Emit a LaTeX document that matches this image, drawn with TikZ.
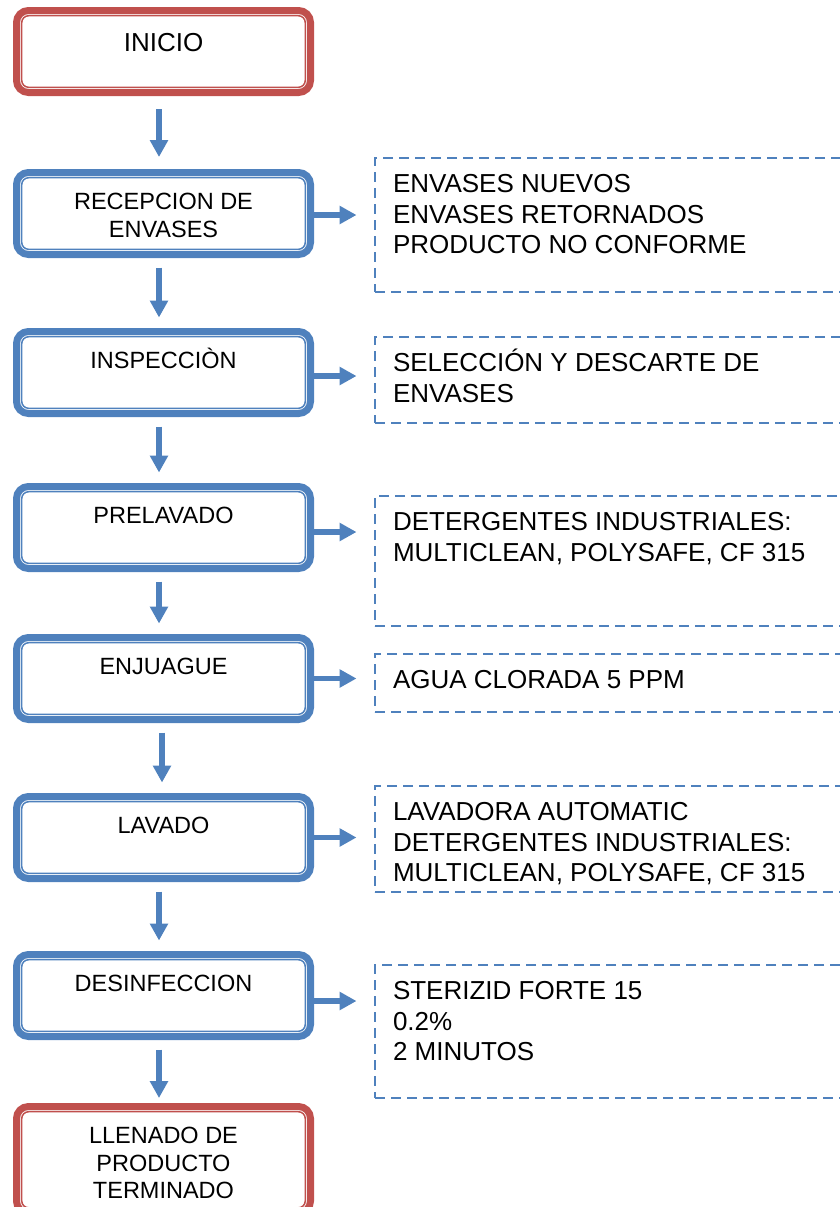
\documentclass[tikz,border=0pt]{standalone}
\usepackage{fontspec}
\setmainfont{Liberation Sans}
\usepackage{tikz}
\usetikzlibrary{arrows.meta}
\definecolor{flowblue}{RGB}{79,129,189}
\definecolor{flowred}{RGB}{192,80,77}
\def\proctext#1#2{\parbox[c][41pt][t]{147pt}{\centering\rule{0pt}{#1}#2}}
\def\notetext#1#2{\parbox[c][#1][t]{225pt}{\raggedright\rule{0pt}{17.3pt}#2}}

\begin{document}
\begin{tikzpicture}[x=0.5pt, y=-0.5pt,
	procbox/.style={draw=#1, line width=3.5pt, rounded corners=6pt, fill=white, inner sep=0pt,
		font=\fontsize{11.75pt}{13.75pt}\selectfont,
		path picture={\draw[#1, line width=0.75pt, rounded corners=3.5pt]
			([shift={(5.2,5.2)}]path picture bounding box.north west) rectangle
			([shift={(-5.2,-5.2)}]path picture bounding box.south east);}},
	procbox/.default=flowblue,
	notebox/.style={draw=flowblue, line width=1pt, dash pattern=on 5pt off 3pt, anchor=north west,
		inner xsep=9pt, inner ysep=0pt, font=\fontsize{13pt}{15.25pt}\selectfont},
	flowarrow/.style={flowblue, line width=2.9pt, -{Triangle[width=8.75pt,length=8.5pt]}},
	stepgap/.style={shorten <=4.75pt, shorten >=5.25pt}]
	\clip (0,0) rectangle (840,1207);
	% process steps
	\node[procbox=flowred, font=\fontsize{13pt}{15pt}\selectfont] (inicio) at (163.5,51.5) {\proctext{20.5pt}{INICIO}};
	\node[procbox] (recep) at (163.5,213.5) {\proctext{18.65pt}{RECEPCION DE\\ENVASES}};
	\node[procbox] (insp) at (163.5,372.5) {\proctext{18.65pt}{INSPECCIÒN}};
	\node[procbox] (prelav) at (163.5,527.5) {\proctext{18.65pt}{PRELAVADO}};
	\node[procbox] (enjuague) at (163.5,678.5) {\proctext{18.65pt}{ENJUAGUE}};
	\node[procbox] (lavado) at (163.5,837.5) {\proctext{18.65pt}{LAVADO}};
	\node[procbox] (desinf) at (163.5,995.5) {\proctext{18.65pt}{DESINFECCION}};
	\node[procbox=flowred, minimum height=53.25pt] (llenado) at (163.5,1159.75) {\proctext{12.5pt}{LLENADO DE\\PRODUCTO\\TERMINADO}};
	% notes
	\node[notebox] (envnote) at (374,157) {\notetext{67pt}{ENVASES NUEVOS\\ENVASES RETORNADOS\\PRODUCTO NO CONFORME}};
	\node[notebox] (inspnote) at (374,336) {\notetext{43pt}{SELECCIÓN Y DESCARTE DE\\ENVASES}};
	\node[notebox] (prelnote) at (374,495) {\notetext{65pt}{DETERGENTES INDUSTRIALES:\\MULTICLEAN, POLYSAFE, CF 315}};
	\node[notebox] (enjnote) at (374,653) {\notetext{29pt}{AGUA CLORADA 5 PPM}};
	\node[notebox] (lavnote) at (374,785) {\notetext{53pt}{LAVADORA AUTOMATIC\\DETERGENTES INDUSTRIALES:\\MULTICLEAN, POLYSAFE, CF 315}};
	\node[notebox] (desnote) at (374,964) {\notetext{66.5pt}{STERIZID FORTE 15\\0.2\%\\2 MINUTOS}};
	% arrows down
	\draw[flowarrow, shorten <=6.5pt, shorten >=6pt] ([shift={(-4.5,0)}]inicio.south) -- ([shift={(-4.5,0)}]recep.north);
	\draw[flowarrow, stepgap] ([shift={(-4.5,0)}]recep.south) -- ([shift={(-4.5,0)}]insp.north);
	\draw[flowarrow, stepgap] ([shift={(-4.5,0)}]insp.south) -- ([shift={(-4.5,0)}]prelav.north);
	\draw[flowarrow, stepgap] ([shift={(-4.5,0)}]prelav.south) -- ([shift={(-4.5,0)}]enjuague.north);
	\draw[flowarrow, stepgap] ([shift={(-1.5,0)}]enjuague.south) -- ([shift={(-1.5,0)}]lavado.north);
	\draw[flowarrow, stepgap] ([shift={(-4.5,0)}]lavado.south) -- ([shift={(-4.5,0)}]desinf.north);
	\draw[flowarrow, shorten <=4.75pt, shorten >=2.5pt] ([shift={(-4.5,0)}]desinf.south) -- ([shift={(-4.5,0)}]llenado.north);
	% arrows right
	\draw[flowarrow, shorten >=8.75pt] ([shift={(0,1.5)}]recep.east) -- ([shift={(0,1.5)}]recep.east -| envnote.west);
	\draw[flowarrow, shorten >=8.75pt] ([shift={(0,3.5)}]insp.east) -- ([shift={(0,3.5)}]insp.east -| inspnote.west);
	\draw[flowarrow, shorten >=8.75pt] ([shift={(0,4.5)}]prelav.east) -- ([shift={(0,4.5)}]prelav.east -| prelnote.west);
	\draw[flowarrow, shorten >=8.75pt] (enjuague.east) -- (enjuague.east -| enjnote.west);
	\draw[flowarrow, shorten >=8.75pt] (lavado.east) -- (lavado.east -| lavnote.west);
	\draw[flowarrow, shorten >=8.75pt] ([shift={(0,5.5)}]desinf.east) -- ([shift={(0,5.5)}]desinf.east -| desnote.west);
\end{tikzpicture}
\end{document}
